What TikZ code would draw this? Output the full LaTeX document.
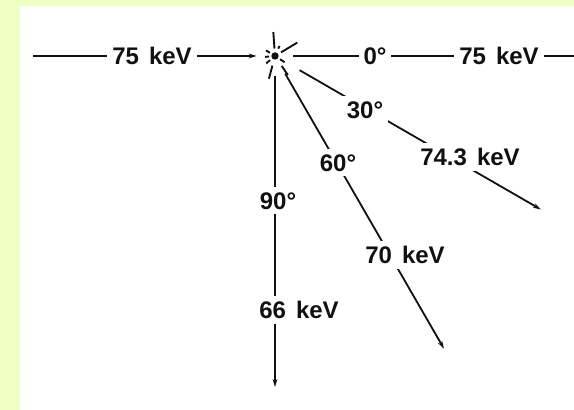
\documentclass[tikz,border=0pt]{standalone}
\usepackage{fontspec}
\setmainfont{Liberation Sans}
\usepackage{xcolor}
\usepackage{tikz}
\usetikzlibrary{arrows.meta,calc}
\definecolor{frame}{HTML}{F0FFC4}
\definecolor{ink}{HTML}{111111}
\newcommand{\kev}[1]{#1\hspace{0.42em}keV}

\tikzset{
  ray/.style={draw=ink, line width=0.9pt},
  spark/.style={draw=ink, line width=0.95pt},
  lbl/.style={text=ink, inner xsep=2.2pt, inner ysep=2.5pt,
              font=\fontsize{12}{14}\selectfont\bfseries},
  hit/.style={circle, inner sep=0pt, minimum size=18pt},
  >={Stealth[length=4pt,width=2.4pt]}
}

\begin{document}
\begin{tikzpicture}[x=0.5pt,y=0.5pt]
  \fill[frame] (0,0) rectangle (574,-410);
  \fill[white] (20,-6) rectangle (574,-410);
  \useasboundingbox (0,0) rectangle (574,-410);

  % collision point
  \node[hit] (ctr) at (275,-56) {};
  \fill[ink] (ctr.center) circle (1.85pt);
  \foreach \a/\r/\s in {94/7.5/24, 31/7/26, 66/8/11, 148/6/10.5, 185/6/10,
                        220/6.5/11.5, 255/10/23.5, -33/6/11.5, -56/12/23}
    \draw[spark] ($(ctr.center)+(\a:\r)$) -- ($(ctr.center)+(\a:\s)$);

  % incoming and straight-through beam
  \coordinate (src) at (33,-56);
  \coordinate (east) at (574,-56);
  \node[lbl] (in75) at (152,-56) {\kev{75}};
  \node[lbl] (deg0) at (375,-56) {0°};
  \node[lbl] (out75) at (499,-56) {\kev{75}};
  \draw[ray] (src) -- (in75);
  \draw[ray,->] (in75) -- (ctr);
  \draw[ray] (ctr) -- (deg0) -- (out75) -- (east);

  % scattered rays
  \coordinate (t30) at ($(ctr.center)+(-30:307)$);
  \coordinate (t60) at ($(ctr.center)+(-60:338)$);
  \coordinate (t90) at ($(ctr.center)+(-90:331)$);
  \draw[ray,->,shorten <=5pt] (ctr) -- (t30);
  \draw[ray,->,shorten <=1pt] (ctr) -- (t60);
  \draw[ray,->,shorten <=1pt] (ctr) -- (t90);

  \node[lbl,fill=white] (deg30) at (365,-110) {30°};
  \node[lbl,fill=white] (e30) at (470,-157) {\kev{74.3}};
  \node[lbl,fill=white] (deg60) at (338,-163) {60°};
  \node[lbl,fill=white] (e60) at (405,-255) {\kev{70}};
  \node[lbl,fill=white] (deg90) at (278,-201) {90°};
  \node[lbl,fill=white] (e90) at (299,-310) {\kev{66}};
\end{tikzpicture}
\end{document}
